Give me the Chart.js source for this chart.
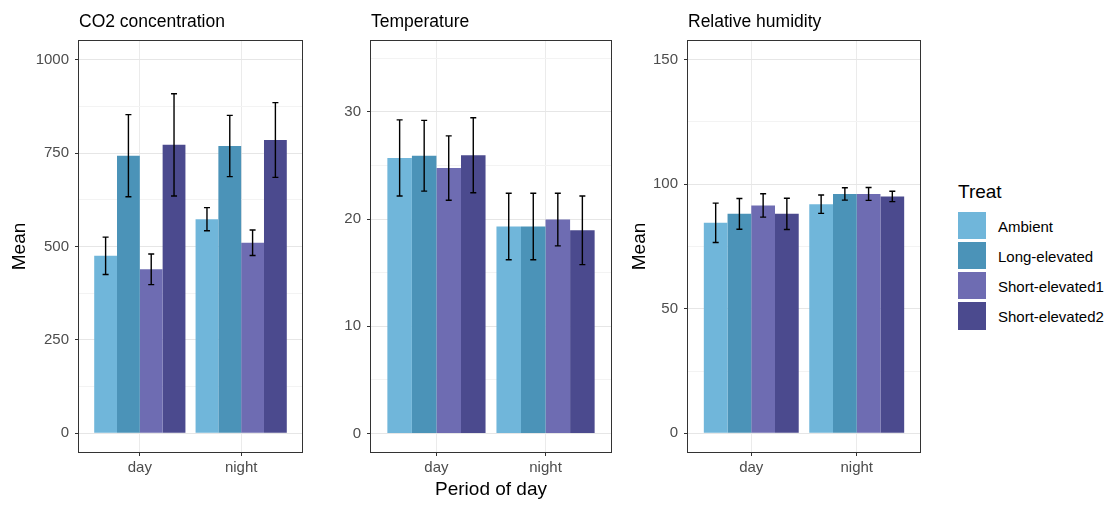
<!DOCTYPE html>
<html>
<head>
<meta charset="utf-8">
<title>CO2 concentration, temperature and relative humidity by period of day</title>
<script src="https://cdn.jsdelivr.net/npm/chart.js@4.4.0/dist/chart.umd.min.js"></script>
<style>
  html, body { margin: 0; padding: 0; background: #fff; }
  body {
    width: 1114px; height: 505px; position: relative; overflow: hidden;
    font-family: "Liberation Sans", Arial, sans-serif;
  }
  .panel { position: absolute; top: 0; width: 310px; height: 505px; }
  .ptitle {
    position: absolute; top: 13px; font-size: 17.5px; line-height: 1;
    color: #000; white-space: nowrap;
  }
  .leg-title {
    position: absolute; left: 958px; top: 182px; font-size: 19px;
    line-height: 1; color: #000;
  }
  .leg-key { position: absolute; left: 958px; width: 28px; height: 27.5px; }
  .leg-label {
    position: absolute; left: 998px; font-size: 15px; line-height: 15px;
    height: 15px; color: #000; white-space: nowrap;
  }
</style>
</head>
<body>

<div class="panel" style="left:0px"><canvas id="co2Chart"></canvas></div>
<div class="panel" style="left:310px"><canvas id="tempChart"></canvas></div>
<div class="panel" style="left:620px"><canvas id="rhChart"></canvas></div>

<div class="ptitle" style="left:79px">CO2 concentration</div>
<div class="ptitle" style="left:371px">Temperature</div>
<div class="ptitle" style="left:688px">Relative humidity</div>

<div class="leg-title">Treat</div>
<div id="legend"></div>

<script>
/* ─── Data ─────────────────────────────────────────────────────── */
const periods     = ['day', 'night'];
const treatments  = ['Ambient', 'Long-elevated', 'Short-elevated1', 'Short-elevated2'];
const treatColors = ['#70b6da', '#4b93b8', '#6e6cb2', '#4b4a8e'];

// one row per treatment: [day, night]
const co2Mean  = [[475, 573], [743, 769], [439, 510], [772, 785]];
const co2Err   = [[50, 31], [110, 82], [41, 34], [137, 100]];
const tempMean = [[25.7, 19.3], [25.9, 19.3], [24.75, 19.95], [25.95, 18.95]];
const tempErr  = [[3.55, 3.1], [3.3, 3.1], [3.0, 2.45], [3.5, 3.2]];
const rhMean   = [[84.5, 92.0], [88.1, 96.1], [91.5, 96.1], [88.1, 95.1]];
const rhErr    = [[7.9, 3.7], [6.2, 2.5], [4.7, 2.6], [6.3, 2.1]];

const co2Ticks  = [0, 250, 500, 750, 1000];
const tempTicks = [0, 10, 20, 30];
const rhTicks   = [0, 50, 100, 150];

/* ─── Shared defaults ──────────────────────────────────────────── */
Chart.defaults.font.family = '"Liberation Sans", Arial, sans-serif';
Chart.defaults.animation   = false;

// major ticks plus the minor ones halfway between (ggplot minor grid)
function withMinor(major, max) {
    const step = major[1] - major[0];
    const all  = [];
    major.forEach(v => {
        all.push(v);
        if (v + step / 2 <= max) all.push(v + step / 2);
    });
    return all;
}

// error bars drawn from the dataset's errors through the y scale
const errorBars = {
    id: 'errorBars',
    afterDatasetsDraw(chart) {
        const ctx = chart.ctx;
        const y   = chart.scales.y;
        ctx.save();
        ctx.strokeStyle = '#000';
        ctx.lineWidth   = 1.4;
        chart.data.datasets.forEach((ds, i) => {
            chart.getDatasetMeta(i).data.forEach((bar, j) => {
                const m   = ds.data[j].y;
                const e   = ds.errors[j];
                const top = y.getPixelForValue(m + e);
                const bot = y.getPixelForValue(m - e);
                ctx.beginPath();
                ctx.moveTo(bar.x, top);  ctx.lineTo(bar.x, bot);
                ctx.moveTo(bar.x - 3, top); ctx.lineTo(bar.x + 3, top);
                ctx.moveTo(bar.x - 3, bot); ctx.lineTo(bar.x + 3, bot);
                ctx.stroke();
            });
        });
        ctx.restore();
    }
};

// panel frame like theme_bw
const panelBorder = {
    id: 'panelBorder',
    afterDraw(chart) {
        const { left, top, right, bottom } = chart.chartArea;
        const ctx = chart.ctx;
        ctx.save();
        ctx.strokeStyle = '#333333';
        ctx.lineWidth   = 1;
        const l = Math.round(left) - 0.5, t = Math.round(top) - 0.5;
        ctx.strokeRect(l, t, Math.round(right) - Math.round(left) + 1, Math.round(bottom) - Math.round(top) + 1);
        ctx.restore();
    }
};

/* ─── Panels ───────────────────────────────────────────────────── */
function makePanel(canvasId, mean, err, major, opts) {
    const allTicks = withMinor(major, opts.max);
    const isMajor  = v => major.includes(v);

    new Chart(document.getElementById(canvasId), {
        type: 'bar',
        data: {
            datasets: treatments.map((t, i) => ({
                label              : t,
                data               : periods.map((p, j) => ({ x: j + 1, y: mean[i][j] })),
                errors             : err[i],
                backgroundColor    : treatColors[i],
                borderWidth        : 0,
                categoryPercentage : 0.9,
                barPercentage      : 1.0,
            })),
        },
        options: {
            responsive          : true,
            maintainAspectRatio : false,
            devicePixelRatio    : 1,
            layout  : { padding: { top: 41, right: opts.padRight, bottom: 0, left: 0 } },
            plugins : { legend: { display: false }, tooltip: { enabled: false }, title: { display: false } },
            scales  : {
                x: {
                    type   : 'linear',
                    min    : 0.4,
                    max    : 2.6,
                    offset : false,
                    afterBuildTicks : s => { s.ticks = periods.map((p, j) => ({ value: j + 1 })); },
                    afterFit        : s => { s.height = 53; },
                    ticks  : {
                        autoSkip: false, maxRotation: 0, padding: 3, color: '#4d4d4d',
                        font: { size: 15 },
                        callback: v => periods[v - 1] || '',
                    },
                    grid   : {
                        offset: false, color: '#ebebeb', lineWidth: 1,
                        tickLength: 4, tickColor: '#333333', tickWidth: 1,
                    },
                    border : { display: false },
                    title  : {
                        display: !!opts.xTitle, text: opts.xTitle, color: '#000',
                        font: { size: 19 }, padding: { top: 0, bottom: 4 },
                    },
                },
                y: {
                    min : opts.min,
                    max : opts.max,
                    afterBuildTicks : s => { s.ticks = allTicks.map(v => ({ value: v })); },
                    afterFit        : s => { s.width = opts.yWidth; },
                    ticks  : {
                        autoSkip: false, padding: 6, color: '#4d4d4d', font: { size: 15 },
                        callback: v => isMajor(v) ? String(v) : '',
                    },
                    grid   : {
                        color     : c => isMajor(c.tick.value) ? '#e6e6e6' : '#f3f3f3',
                        lineWidth : 1,
                        tickLength: 4,
                        tickWidth : 1,
                        tickColor : c => isMajor(c.tick.value) ? '#333333' : 'rgba(0,0,0,0)',
                    },
                    border : { display: false },
                    title  : {
                        display: !!opts.yTitle, text: opts.yTitle, color: '#000',
                        font: { size: 19 }, padding: { top: 8, bottom: 0 },
                    },
                },
            },
        },
        plugins: [errorBars, panelBorder],
    });
}

makePanel('co2Chart',  co2Mean,  co2Err,  co2Ticks,  { min: -50,  max: 1050,  yWidth: 79, padRight: 8,  yTitle: 'Mean', xTitle: '' });
makePanel('tempChart', tempMean, tempErr, tempTicks, { min: -1.72, max: 36.6, yWidth: 61, padRight: 9,  yTitle: '',     xTitle: 'Period of day' });
makePanel('rhChart',   rhMean,   rhErr,   rhTicks,   { min: -7.5, max: 157.5, yWidth: 68, padRight: 10, yTitle: 'Mean', xTitle: '' });

/* ─── Legend ───────────────────────────────────────────────────── */
const legend = document.getElementById('legend');
treatments.forEach((t, i) => {
    const top = 211.5 + i * 30.2;
    const key = document.createElement('div');
    key.className = 'leg-key';
    key.style.top = top + 'px';
    key.style.background = treatColors[i];
    const lab = document.createElement('div');
    lab.className = 'leg-label';
    lab.style.top = (top + 14.5 - 7.5) + 'px';
    lab.textContent = t;
    legend.appendChild(key);
    legend.appendChild(lab);
});
</script>
</body>
</html>
